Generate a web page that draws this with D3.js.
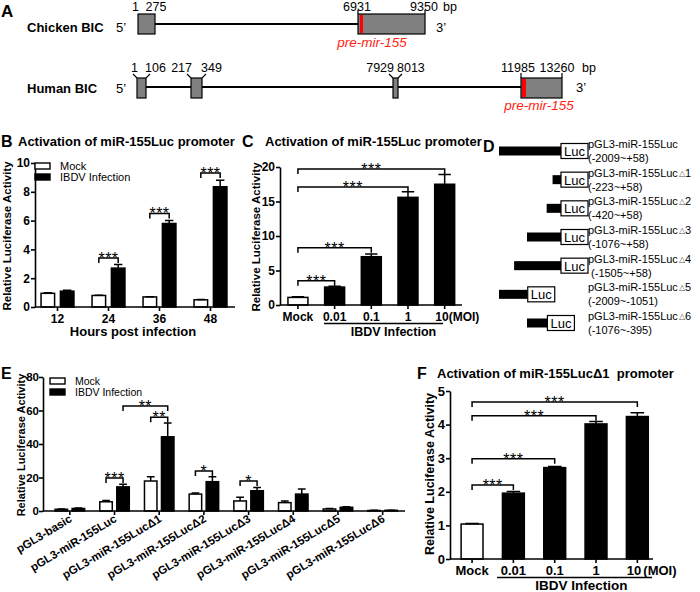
<!DOCTYPE html>
<html>
<head>
<meta charset="UTF-8">
<title>miR-155 promoter activation</title>
<script src="https://cdn.jsdelivr.net/npm/d3@7"></script>
<style>
  body { margin: 0; background: #fff; }
  svg { display: block; }
</style>
</head>
<body>
<svg id="fig" width="700" height="592"></svg>
<script>
const FONT = "'Liberation Sans', Arial, Helvetica, sans-serif";

// panel A - gene structures (bp)
const chickenExons = [[1, 275], [6931, 9350]];
const chickenPremir = [7000, 7110];
const humanExons = [[1, 106], [217, 349], [7929, 8013], [11985, 13260]];
const humanPremir = [12016, 12140];

// panel B - time course
const hours = ['12', '24', '36', '48'];
const series = ['Mock', 'IBDV Infection'];
const bMock = [0.95, 0.8, 0.7, 0.5];
const bMockErr = [0.04, 0.02, 0.02, 0.02];
const bIbdv = [1.1, 2.7, 5.8, 8.35];
const bIbdvErr = [0.06, 0.25, 0.2, 0.45];
const bTicks = [0, 2, 4, 6, 8, 10];
const bStars = [[1, 3.4, '***'], [2, 6.5, '***'], [3, 9.3, '***']];

// panel C - dose response
const doses = ['Mock', '0.01', '0.1', '1', '10'];
const cValues = [1.1, 2.6, 7.0, 15.6, 17.5];
const cErr = [0.1, 0.1, 0.4, 0.8, 1.4];
const cTicks = [0, 5, 10, 15, 20];
const cStars = [[1, 3.5, '***'], [2, 8.3, '***'], [3, 17.1, '***'], [4, 19.7, '***']];

// panel D - constructs
const dNames = ['pGL3-miR-155Luc', 'pGL3-miR-155Luc', 'pGL3-miR-155Luc', 'pGL3-miR-155Luc',
  'pGL3-miR-155Luc', 'pGL3-miR-155Luc', 'pGL3-miR-155Luc'];
const dDelta = ['', '1', '2', '3', '4', '5', '6'];
const dRanges = ['(-2009~+58)', '(-223~+58)', '(-420~+58)', '(-1076~+58)', ' (-1505~+58)',
  '(-2009~-1051)', '(-1076~-395)'];
const dStart = [-2009, -223, -420, -1076, -1505, -2009, -1076];
const dEnd = [58, 58, 58, 58, 58, -1051, -395];

// panel E - deletion constructs
const eLabels = ['pGL3-basic', 'pGL3-miR-155Luc', 'pGL3-miR-155LucΔ1', 'pGL3-miR-155LucΔ2',
  'pGL3-miR-155LucΔ3', 'pGL3-miR-155LucΔ4', 'pGL3-miR-155LucΔ5', 'pGL3-miR-155LucΔ6'];
const eMock = [1.0, 5.5, 17.9, 10.1, 6.0, 5.0, 1.2, 0.3];
const eMockErr = [0.2, 0.8, 2.5, 0.7, 2.2, 1.0, 0.3, 0.1];
const eIbdv = [1.5, 14.4, 44.3, 17.5, 12.1, 10.1, 2.2, 0.4];
const eIbdvErr = [0.3, 1.6, 8.2, 3.0, 2.0, 3.0, 0.3, 0.1];
const eTicks = [0, 20, 40, 60, 80];
// [group, series, group, series, level, label]
const eStars = [[1, 0, 1, 1, 19.7, '***'], [3, 0, 3, 1, 23.9, '*'], [4, 0, 4, 1, 17.9, '*'],
  [2, 0, 2, 1, 56, '**'], [1, 1, 2, 1, 62.7, '**']];

// panel F - delta1 dose response
const fValues = [1.04, 1.96, 2.72, 4.02, 4.24];
const fErr = [0.02, 0.05, 0.03, 0.07, 0.11];
const fTicks = [0, 1, 2, 3, 4, 5];
const fStars = [[1, 2.2, '***'], [2, 2.98, '***'], [3, 4.26, '***'], [4, 4.67, '***']];

const svg = d3.select('#fig').attr('font-family', FONT);

function txt(g, x, y, t, size, opts = {}) {
  return g.append('text').attr('x', x).attr('y', y).text(t)
    .attr('font-size', size)
    .attr('font-weight', opts.bold ? 'bold' : 'normal')
    .attr('font-style', opts.italic ? 'italic' : 'normal')
    .attr('text-anchor', opts.anchor || 'start')
    .attr('fill', opts.fill || '#000');
}

function yAxis(g, y, ticks, x, size, pad) {
  const a = g.append('g').attr('transform', `translate(${x},0)`)
    .call(d3.axisLeft(y).tickValues(ticks).tickFormat(d3.format('d'))
      .tickSize(4).tickSizeOuter(0).tickPadding(pad === undefined ? 1 : pad))
    .attr('font-family', FONT).attr('font-size', size || 12).attr('font-weight', 'bold');
  a.selectAll('path, line').attr('stroke', '#000').attr('stroke-width', 1.6);
  a.selectAll('text').attr('fill', '#000');
}

function xAxis(g, scale, y0, x1, x2, size) {
  g.append('line').attr('x1', x1).attr('x2', x2).attr('y1', y0).attr('y2', y0)
    .attr('stroke', '#000').attr('stroke-width', 1.6);
  const a = g.append('g').attr('transform', `translate(0,${y0})`)
    .call(d3.axisBottom(scale).tickSize(4).tickSizeOuter(0).tickPadding(3))
    .attr('font-family', FONT).attr('font-size', size).attr('font-weight', 'bold');
  a.select('.domain').remove();
  a.selectAll('line').attr('stroke', '#000').attr('stroke-width', 1.6);
  a.selectAll('text').attr('fill', '#000');
  return a;
}

function yTitle(g, x, cy, size) {
  g.append('text').attr('transform', `translate(${x},${cy}) rotate(-90)`)
    .attr('text-anchor', 'middle').attr('font-size', size).attr('font-weight', 'bold')
    .text('Relative Luciferase Activity');
}

function bar(g, cx, w, y, v, e, black) {
  g.append('rect').attr('x', cx - w / 2).attr('width', w)
    .attr('y', y(v)).attr('height', y(0) - y(v))
    .attr('fill', black ? '#000' : '#fff').attr('stroke', '#000').attr('stroke-width', 1.5);
  const cap = w * 0.62;
  g.append('path').attr('d', `M${cx},${y(v)}V${y(v + e)}M${cx - cap / 2},${y(v + e)}H${cx + cap / 2}`)
    .attr('stroke', '#000').attr('stroke-width', 1.5).attr('fill', 'none');
}

function bracket(g, x1, x2, yy, label) {
  g.append('path').attr('d', `M${x1},${yy + 5}V${yy}H${x2}V${yy + 5}`)
    .attr('stroke', '#000').attr('stroke-width', 1.5).attr('fill', 'none');
  g.append('text').attr('x', (x1 + x2) / 2).attr('y', yy + 6).attr('text-anchor', 'middle')
    .attr('font-size', 16).attr('letter-spacing', 0.5).text(label);
}

function legend(g, x, y, size) {
  series.forEach((s, i) => {
    g.append('rect').attr('x', x).attr('y', y + i * 11).attr('width', 15).attr('height', 6)
      .attr('fill', i ? '#000' : '#fff').attr('stroke', '#000').attr('stroke-width', 1.4);
    txt(g, x + 25, y + i * 11 + 7, s, size);
  });
}

// ---------------- A
(function () {
  const g = svg.append('g');
  txt(g, 1, 17, 'A', 17, { bold: true });

  // chicken
  const cx = d3.scaleLinear().domain([1, 275, 6931, 9350]).range([138, 155, 358, 425]);
  txt(g, 27, 32, 'Chicken BIC', 13, { bold: true });
  txt(g, 116, 32, '5\u2019', 13);
  txt(g, 436, 32, '3\u2019', 13);
  g.append('line').attr('x1', cx(chickenExons[0][1])).attr('x2', cx(chickenExons[1][0]))
    .attr('y1', 24).attr('y2', 24).attr('stroke', '#000').attr('stroke-width', 2);
  chickenExons.forEach(([s, e], i) => {
    g.append('rect').attr('x', cx(s)).attr('width', cx(e) - cx(s)).attr('y', 14).attr('height', 20)
      .attr('fill', '#808080').attr('stroke', '#000').attr('stroke-width', 1.2);
    if (i === 1) {
      g.append('path').attr('d', `M${cx(s)},14V10M${cx(e)},14V10`).attr('stroke', '#000').attr('stroke-width', 1.2);
    }
  });
  g.append('rect').attr('x', cx(chickenPremir[0])).attr('width', cx(chickenPremir[1]) - cx(chickenPremir[0]))
    .attr('y', 15).attr('height', 18).attr('fill', '#f00');
  txt(g, cx(1) + 1, 11, '1', 12.5, { anchor: 'end' });
  txt(g, cx(275) + 1, 11, '275', 12.5, { anchor: 'middle' });
  txt(g, cx(6931) - 1, 11, '6931', 12.5, { anchor: 'middle' });
  txt(g, cx(9350) - 1, 11, '9350', 12.5, { anchor: 'middle' });
  txt(g, cx(9350) + 18, 11, 'bp', 12.5);
  txt(g, cx(chickenPremir[0]) + 12, 47, 'pre-mir-155', 13.5, { italic: true, anchor: 'middle', fill: '#f21' });

  // human
  const hx = d3.scaleLinear().domain([1, 106, 217, 349, 7929, 8013, 11985, 13260])
    .range([137, 146, 191, 202, 393, 398, 521, 562]);
  txt(g, 27, 93, 'Human BIC', 13, { bold: true });
  txt(g, 116, 93, '5\u2019', 13);
  txt(g, 576, 92, '3\u2019', 13);
  g.append('line').attr('x1', hx(humanExons[0][1])).attr('x2', hx(humanExons[3][0]))
    .attr('y1', 87).attr('y2', 87).attr('stroke', '#000').attr('stroke-width', 2);
  humanExons.forEach(([s, e], i) => {
    g.append('rect').attr('x', hx(s)).attr('width', hx(e) - hx(s)).attr('y', 78).attr('height', 20)
      .attr('fill', '#808080').attr('stroke', '#000').attr('stroke-width', 1.2);
    if (i < 3) {
      g.append('path').attr('d', `M${hx(s)},78L${hx(s) - 4},74M${hx(e)},78L${hx(e) + 4},74`)
        .attr('stroke', '#000').attr('stroke-width', 1.1).attr('fill', 'none');
      txt(g, hx(s) + 1, 72, String(s), 12.5, { anchor: 'end' });
      txt(g, hx(e) - 1, 72, String(e), 12.5);
    } else {
      g.append('path').attr('d', `M${hx(s)},78V73M${hx(e)},78V73`).attr('stroke', '#000').attr('stroke-width', 1.2);
      txt(g, hx(s) - 3, 72, String(s), 12.5, { anchor: 'middle' });
      txt(g, hx(e) - 5, 72, String(e), 12.5, { anchor: 'middle' });
      txt(g, hx(e) + 20, 72, 'bp', 12.5);
    }
  });
  g.append('rect').attr('x', hx(humanPremir[0])).attr('width', hx(humanPremir[1]) - hx(humanPremir[0]))
    .attr('y', 79).attr('height', 18).attr('fill', '#f00');
  txt(g, hx(humanPremir[0]) + 17, 110, 'pre-mir-155', 13.5, { italic: true, anchor: 'middle', fill: '#f21' });
})();

// ---------------- B
(function () {
  const g = svg.append('g');
  txt(g, 1, 147, 'B', 16, { bold: true });
  txt(g, 18, 146, 'Activation of miR-155Luc promoter', 13, { bold: true });
  const y = d3.scaleLinear().domain([0, 10]).range([307, 163]);
  const x = d3.scaleBand().domain(hours).range([32, 236]);
  const inner = d3.scaleBand().domain(series).range([-16.45, 16.45]).paddingInner(0.3);
  const w = inner.bandwidth();
  const c = h => x(h) + x.bandwidth() / 2;
  const sx = (h, s) => c(h) + inner(s) + w / 2;
  hours.forEach((h, i) => {
    bar(g, sx(h, series[0]), w, y, bMock[i], bMockErr[i], false);
    bar(g, sx(h, series[1]), w, y, bIbdv[i], bIbdvErr[i], true);
  });
  yAxis(g, y, bTicks, 35, 12);
  xAxis(g, x, 307, 35, 235, 12);
  txt(g, 133, 336, 'Hours post infection', 13, { bold: true, anchor: 'middle' });
  yTitle(g, 11, 236, 11.5);
  legend(g, 35, 163, 11);
  bStars.forEach(([gi, lv, lab]) => bracket(g, sx(hours[gi], series[0]), sx(hours[gi], series[1]), y(lv), lab));
})();

// dose panels C & F
function dosePanel(o) {
  const g = svg.append('g');
  const y = d3.scaleLinear().domain(o.domain).range([o.y0, o.y1]);
  const x = d3.scaleBand().domain(doses).range(o.xr).paddingInner(o.pad).paddingOuter(o.pad / 2);
  const w = x.bandwidth();
  const c = d => x(d) + w / 2;
  doses.forEach((d, i) => bar(g, c(d), w, y, o.values[i], o.err[i], i > 0));
  yAxis(g, y, o.ticks, o.ax, o.tickSize);
  const a = xAxis(g, x, o.y0, o.ax, o.xend, o.tickSize);
  a.selectAll('.tick text').filter(d => d === '10').attr('text-anchor', 'end').attr('x', 4);
  a.selectAll('.tick').filter(d => d === '10').append('text')
    .attr('x', o.moiGap).attr('y', 7).attr('dy', '0.71em').attr('fill', '#000')
    .attr('text-anchor', 'start').text('(MOI)');
  g.append('line').attr('x1', o.ul[0]).attr('x2', o.ul[1]).attr('y1', o.y0 + 18.5).attr('y2', o.y0 + 18.5)
    .attr('stroke', '#000').attr('stroke-width', 1.3);
  txt(g, (o.ul[0] + o.ul[1]) / 2 + o.labelShift, o.y0 + 30.5, 'IBDV Infection', o.tickSize + 0.5,
    { bold: true, anchor: 'middle' });
  yTitle(g, o.titleX, o.titleY, o.titleSize);
  o.stars.forEach(([k, lv, lab]) => bracket(g, c(doses[0]), c(doses[k]), y(lv), lab));
  return g;
}

(function () {
  const g = dosePanel({
    domain: [0, 20], y0: 305, y1: 167, xr: [279.6, 463], pad: 0.455, values: cValues, err: cErr,
    ticks: cTicks, ax: 280, xend: 462, tickSize: 12, moiGap: 4, ul: [324, 443], labelShift: 10,
    titleX: 260, titleY: 237, titleSize: 11.5, stars: cStars
  });
  txt(g, 242, 147, 'C', 16, { bold: true });
  txt(g, 265, 146, 'Activation of miR-155Luc promoter', 13, { bold: true });
})();

(function () {
  const g = dosePanel({
    domain: [0, 5], y0: 559, y1: 391, xr: [451.4, 658], pad: 0.47, values: fValues, err: fErr,
    ticks: fTicks, ax: 450, xend: 653, tickSize: 13, moiGap: 6, ul: [497, 652], labelShift: 7,
    titleX: 434, titleY: 474, titleSize: 12.5, stars: fStars
  });
  txt(g, 417, 379, 'F', 16, { bold: true });
  txt(g, 437, 378, 'Activation of miR-155Luc\u03941  promoter', 13, { bold: true }).attr('xml:space', 'preserve');
})();

// ---------------- D
(function () {
  const g = svg.append('g');
  txt(g, 483, 152, 'D', 16, { bold: true });
  const x = d3.scaleLinear().domain([-2009, 58]).range([499, 561]);
  const rowY = d3.scalePoint().domain(d3.range(dNames.length)).range([148, 320]);
  dNames.forEach((n, i) => {
    const by = rowY(i) + 3;
    g.append('rect').attr('x', x(dStart[i])).attr('width', x(dEnd[i]) - x(dStart[i]))
      .attr('y', by - 4.5).attr('height', 9).attr('fill', '#000');
    g.append('rect').attr('x', x(dEnd[i])).attr('width', 27).attr('y', by - 7.5).attr('height', 15)
      .attr('fill', '#fff').attr('stroke', '#000').attr('stroke-width', 1.2);
    txt(g, x(dEnd[i]) + 13.5, by + 5, 'Luc', 13, { anchor: 'middle' });
    const t = txt(g, 588, rowY(i), n, 11);
    if (dDelta[i]) {
      t.append('tspan').attr('font-size', 7.5).attr('dx', 1).attr('dy', -1).attr('fill', '#555').text('\u25B3');
      t.append('tspan').attr('dy', 1).text(dDelta[i]);
    }
    txt(g, 588, rowY(i) + 14, dRanges[i], 11).attr('xml:space', 'preserve');
  });
})();

// ---------------- E
(function () {
  const g = svg.append('g');
  txt(g, 1, 379, 'E', 16, { bold: true });
  const y = d3.scaleLinear().domain([0, 80]).range([511, 377]);
  const x = d3.scaleBand().domain(eLabels).range([47.5, 405]);
  const inner = d3.scaleBand().domain(series).range([-14.75, 14.75]).paddingInner(0.265);
  const w = inner.bandwidth();
  const sx = (gi, si) => x(eLabels[gi]) + x.bandwidth() / 2 + inner(series[si]) + w / 2;
  eLabels.forEach((l, i) => {
    bar(g, sx(i, 0), w, y, eMock[i], eMockErr[i], false);
    bar(g, sx(i, 1), w, y, eIbdv[i], eIbdvErr[i], true);
  });
  yAxis(g, y, eTicks, 43, 11.5, 0);
  const a = xAxis(g, x, 511, 43, 405, 11.5);
  a.selectAll('.tick text').attr('text-anchor', 'end').attr('dy', null)
    .attr('transform', 'translate(3,10) rotate(-31)').attr('x', 0).attr('y', 0);
  yTitle(g, 25, 445, 11);
  legend(g, 50, 378, 10.5);
  eStars.forEach(([g1, s1, g2, s2, lv, lab]) => bracket(g, sx(g1, s1), sx(g2, s2), y(lv), lab));
})();
</script>
</body>
</html>
